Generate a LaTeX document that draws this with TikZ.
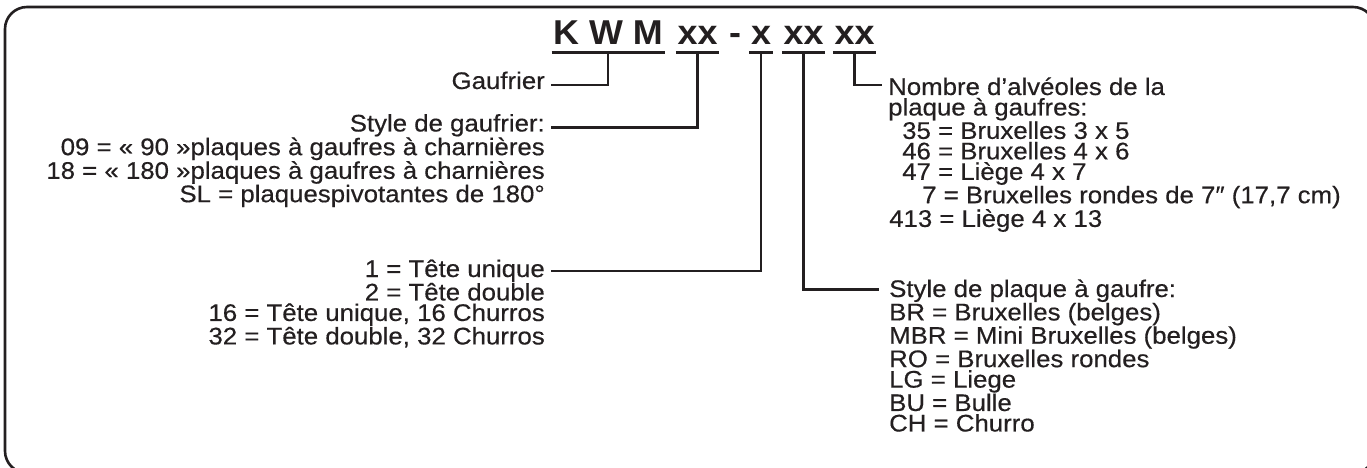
\documentclass[tikz,border=0pt]{standalone}
\usepackage{fontspec}
\setmainfont{Liberation Sans}[FakeStretch=1.075,FakeBold=0.4]
\newfontfamily\codefont{Liberation Sans}[FakeStretch=1.04]
\definecolor{ink}{HTML}{231F20}
\newcommand\rlines[1]{\vtop{\baselineskip=20.5pt\halign{\hfil##\cr#1\crcr}}}
\newcommand\llines[1]{\vtop{\baselineskip=20.5pt\halign{##\hfil\cr#1\crcr}}}
\begin{document}
\begin{tikzpicture}[x=1pt,y=-1pt,
  txt/.style={inner sep=0pt, text=ink, font=\fontsize{24}{20.5}\selectfont},
  code/.style={inner ysep=0pt, inner xsep=1.5pt, text=ink, font=\codefont\fontsize{34.5}{36}\selectfont\bfseries, anchor=base},
  uline/.style={line width=2.2pt, draw=ink},
  conn/.style={line width=2.1pt, draw=ink},
  frame/.style={line width=2.6pt, draw=ink, rounded corners=22pt}]
\useasboundingbox (0,0) rectangle (1367,468);
\draw[frame] (5,7) rectangle (1375,473);
% code tokens
\node[code] (kwm) at (608,45) {K W M};
\node[code] (c1) at (697.5,45) {xx};
\node[code] (dash) at (735,45) {-};
\node[code] (c2) at (761,45) {x};
\node[code] (c3) at (803.5,45) {xx};
\node[code] (c4) at (854.5,45) {xx};
\foreach \n in {kwm,c1,c2,c3,c4}{
  \draw[uline] ([yshift=-7.5pt]\n.base west) -- ([yshift=-7.5pt]\n.base east);
  \coordinate (\n u) at ([yshift=-7.5pt]\n.base);
}
% left texts
\node[txt, anchor=base east] (gauf) at (545,89) {Gaufrier};
\node[txt, anchor=base east] (styg) at (545,131.5) {\rlines{Style de gaufrier:\cr
09 = « 90 »plaques à gaufres à charnières\cr
18 = « 180 »plaques à gaufres à charnières\cr
SL = plaquespivotantes de 180°}};
\node[txt, anchor=base east] (tete) at (545,277) {\rlines{1 = Tête unique\cr
2 = Tête double\cr
16 = Tête unique, 16 Churros\cr
32 = Tête double, 32 Churros}};
% right texts
\node[txt, anchor=base west] (nomb) at (888,95) {\llines{Nombre d’alvéoles de la\cr
plaque à gaufres:\cr
\kern14pt 35 = Bruxelles 3 x 5\cr
\kern14pt 46 = Bruxelles 4 x 6\cr
\kern14pt 47 = Liège 4 x 7\cr
\kern34pt 7 = Bruxelles rondes de 7″ (17,7 cm)\cr
\kern1pt 413 = Liège 4 x 13}};
\node[txt, anchor=base west] (stp) at (889,297) {\llines{Style de plaque à gaufre:\cr
BR = Bruxelles (belges)\cr
MBR = Mini Bruxelles (belges)\cr
RO = Bruxelles rondes\cr
LG = Liege\cr
BU = Bulle\cr
CH = Churro}};
% connectors
\draw[conn] (kwmu) |- ([xshift=6pt,yshift=4pt]gauf.base east);
\draw[conn] (c1u) |- ([xshift=6pt,yshift=4pt]styg.base east);
\draw[conn] (c2u) |- ([xshift=6pt,yshift=6pt]tete.base east);
\draw[conn] (c3u) |- ([xshift=-10pt,yshift=7.5pt]stp.base west);
\draw[conn] (c4u) |- ([xshift=-6pt,yshift=10pt]nomb.base west);
\end{tikzpicture}
\end{document}
